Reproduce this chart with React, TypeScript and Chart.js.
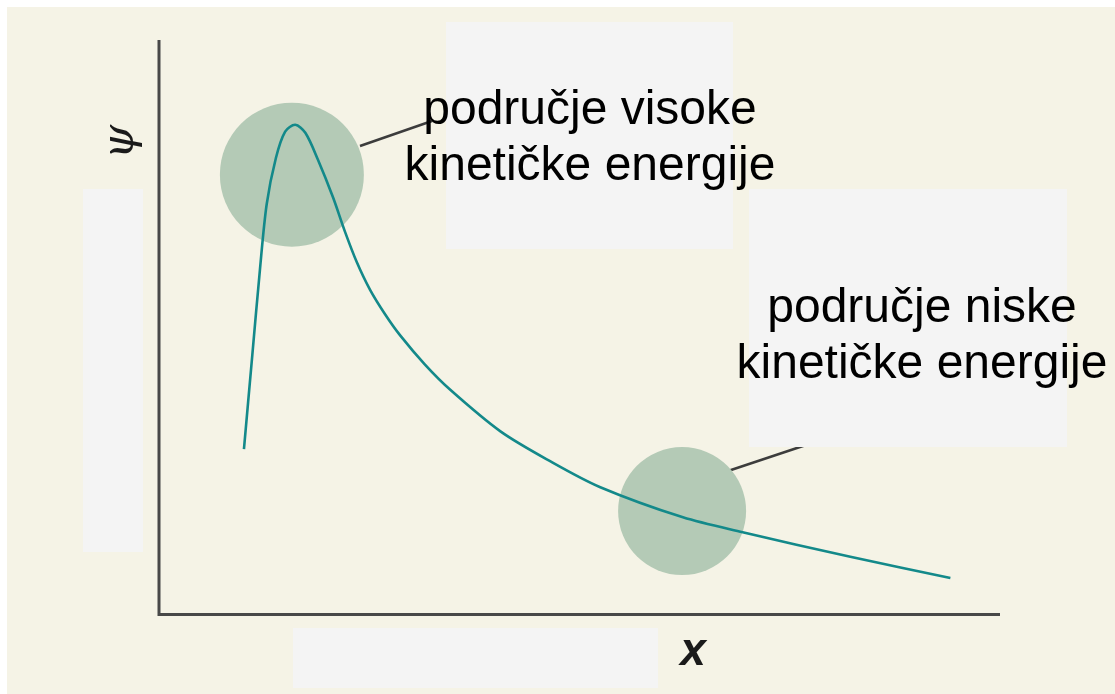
import React, { useEffect, useRef } from "react";
import { Chart, registerables } from "chart.js";

Chart.register(...registerables);

// Wave function curve (x, psi) in axis units (x: 0..10, psi: 0..10)
const curveX = [1.01, 1.11, 1.2, 1.28, 1.39, 1.5, 1.62, 1.74, 1.89, 2.07, 2.21, 2.35, 2.51, 2.69, 2.87, 3.16, 3.46, 4.06, 4.65, 5.24, 6.23, 6.94, 8.22, 9.41];
const curveY = [2.86, 4.51, 5.99, 7.13, 7.94, 8.4, 8.52, 8.38, 7.91, 7.25, 6.66, 6.13, 5.64, 5.21, 4.84, 4.34, 3.9, 3.17, 2.65, 2.2, 1.67, 1.41, 0.98, 0.61];

// Highlighted regions (centre in axis units, radius in px)
const regionX = [1.58, 6.22];
const regionY = [7.65, 1.78];
const regionR = [72, 64];

const labelHigh = ["područje visoke", "kinetičke energije"];
const labelLow = ["područje niske", "kinetičke energije"];
const axisXLabel = "x";
const axisYLabel = "ψ";

const BG = "#f5f3e6";
const PATCH = "#f4f4f4";
const TEAL = "#13898a";
const CIRCLE = "#b4cab6";
const AXIS = "#484848";

const decorPlugin = {
  id: "decor",
  beforeDraw(chart: any) {
    const ctx = chart.ctx;
    ctx.save();
    ctx.fillStyle = "#ffffff";
    ctx.fillRect(0, 0, chart.width, chart.height);
    ctx.fillStyle = BG;
    ctx.fillRect(7, 7, chart.width - 7, chart.height - 7);
    // leader lines
    ctx.strokeStyle = "#3c3c3c";
    ctx.lineWidth = 2.5;
    ctx.beginPath();
    ctx.moveTo(360, 146);
    ctx.lineTo(432, 121);
    ctx.moveTo(725, 472);
    ctx.lineTo(815, 442);
    ctx.stroke();
    // light patches
    ctx.fillStyle = PATCH;
    ctx.fillRect(446, 22, 287, 227);
    ctx.fillRect(749, 189, 318, 258);
    ctx.fillRect(83, 189, 60, 363);
    ctx.fillRect(293, 628, 365, 60);
    ctx.restore();
  },
  afterDraw(chart: any) {
    const ctx = chart.ctx;
    const a = chart.chartArea;
    ctx.save();
    // axes
    ctx.strokeStyle = AXIS;
    ctx.lineWidth = 3;
    ctx.lineCap = "butt";
    ctx.beginPath();
    ctx.moveTo(a.left, a.top);
    ctx.lineTo(a.left, a.bottom + 1.5);
    ctx.lineTo(a.right, a.bottom + 1.5);
    ctx.stroke();
    // labels
    ctx.fillStyle = "#000000";
    ctx.textAlign = "center";
    ctx.textBaseline = "alphabetic";
    ctx.font = "48px 'Liberation Sans', Arial, sans-serif";
    ctx.fillText(labelHigh[0], 590, 124);
    ctx.fillText(labelHigh[1], 590, 180);
    ctx.fillText(labelLow[0], 922, 322);
    ctx.fillText(labelLow[1], 922, 378);
    // axis titles
    ctx.fillStyle = "#1a1a1a";
    ctx.font = "italic bold 46px 'Liberation Sans', Arial, sans-serif";
    ctx.fillText(axisXLabel, 693, 665);
    ctx.save();
    ctx.translate(122, 142);
    ctx.rotate(-Math.PI / 2);
    ctx.textBaseline = "middle";
    ctx.font = "italic 44px 'DejaVu Serif', serif";
    ctx.fillText(axisYLabel, 0, 0);
    ctx.restore();
    ctx.restore();
  },
};

export default function App() {
  const ref = useRef<HTMLCanvasElement>(null);
  useEffect(() => {
    document.body.style.margin = "0";
    const curve = curveX.map((x, i) => ({ x, y: curveY[i] }));
    const regions = regionX.map((x, i) => ({ x, y: regionY[i], r: regionR[i] }));
    const chart = new Chart(ref.current as HTMLCanvasElement, {
      type: "scatter",
      data: {
        datasets: [
          {
            type: "line",
            data: curve,
            borderColor: TEAL,
            borderWidth: 2.6,
            pointRadius: 0,
            showLine: true,
            tension: 0.3,
            fill: false,
            order: 1,
          } as any,
          {
            type: "bubble",
            data: regions,
            backgroundColor: CIRCLE,
            borderWidth: 0,
            hoverRadius: 0,
            order: 2,
          } as any,
        ],
      },
      options: {
        responsive: false,
        animation: false,
        events: [],
        layout: { autoPadding: false, padding: { left: 159, right: 115, top: 40, bottom: 81 } },
        plugins: { legend: { display: false }, tooltip: { enabled: false }, title: { display: false } },
        scales: {
          x: { type: "linear", min: 0, max: 10, display: false },
          y: { type: "linear", min: 0, max: 10, display: false },
        },
      },
      plugins: [decorPlugin],
    });
    return () => chart.destroy();
  }, []);
  return (
    <div style={{ position: "fixed", left: 0, top: 0, width: 1115, height: 694 }}>
      <canvas ref={ref} width={1115} height={694} />
    </div>
  );
}
